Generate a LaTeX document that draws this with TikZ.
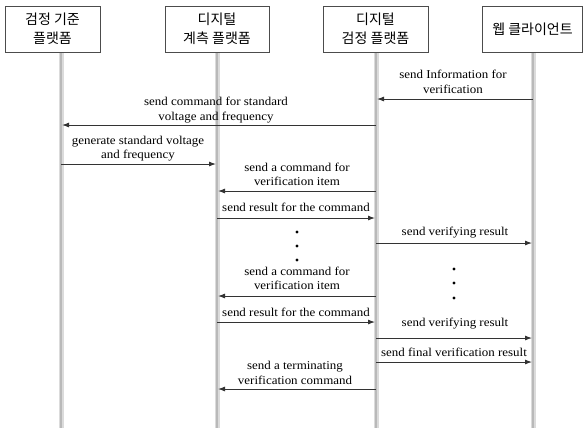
\documentclass[tikz,border=0pt]{standalone}
\usepackage{fontspec}
\setmainfont[FakeStretch=1.08]{Liberation Serif}
\newfontfamily\kor{Noto Sans CJK KR}
\usetikzlibrary{arrows.meta}
\begin{document}
\begin{tikzpicture}[x=1pt,y=-1pt,
  actor/.style={draw=black!70, line width=0.8pt, fill=white, minimum height=46pt, inner sep=0pt,
    font=\kor\fontsize{14}{19}\selectfont, align=center},
  lifeouter/.style={line width=5pt, draw=gray!28},
  lifeinner/.style={line width=2.4pt, draw=gray!55},
  msg/.style={draw=black!80, line width=0.9pt, -{Latex[length=7pt,width=5pt]}},
  lbl/.style={font=\fontsize{12}{14.5}\selectfont, align=center, inner sep=0pt},
  dot/.style={circle, fill=black, inner sep=0pt, minimum size=3.2pt}]
\useasboundingbox (0,0) rectangle (583,432);
% lifelines
\foreach \i/\x in {1/61,2/217,3/376,4/533}{
  \coordinate (t\i) at (\x,52);
  \coordinate (b\i) at (\x,428);
  \draw[lifeouter] (t\i) -- (b\i);
  \draw[lifeinner] (t\i) -- (b\i);
}
% actors
\node[actor, minimum width=95pt] (a1) at (52.5,29) {검정 기준\\플랫폼};
\node[actor, minimum width=104pt] (a2) at (217,29) {디지털\\계측 플랫폼};
\node[actor, minimum width=105pt] (a3) at (375.5,29) {디지털\\검정 플랫폼};
\node[actor, minimum width=100.5pt] (a4) at (532.5,29) {웹 클라이언트};
% message 1
\coordinate (m1s) at (533,99); \coordinate (m1e) at (377,99);
\draw[msg] (m1s) -- (m1e);
\node[lbl] (l1) at (453,82) {send Information for\\verification};
% message 2
\coordinate (m2s) at (376,125); \coordinate (m2e) at (62,125);
\draw[msg] (m2s) -- (m2e);
\node[lbl] (l2) at (216,110) {send command for standard\\voltage and frequency};
% message 3
\coordinate (m3s) at (61,164); \coordinate (m3e) at (216,164);
\draw[msg] (m3s) -- (m3e);
\node[lbl] (l3) at (138,148.5) {generate standard voltage\\and frequency};
% message 4
\coordinate (m4s) at (376,191); \coordinate (m4e) at (218,191);
\draw[msg] (m4s) -- (m4e);
\node[lbl] (l4) at (297,174.5) {send a command for\\verification item};
% message 5
\coordinate (m5s) at (217,218); \coordinate (m5e) at (375,218);
\draw[msg] (m5s) -- (m5e);
\node[lbl] (l5) at (296,207) {send result for the command};
% dots left
\node[dot] (d1) at (297,232) {};
\node[dot] (d2) at (297,246) {};
\node[dot] (d3) at (297,260) {};
% message 6
\coordinate (m6s) at (376,243); \coordinate (m6e) at (532,243);
\draw[msg] (m6s) -- (m6e);
\node[lbl] (l6) at (455,233) {send verifying result};
% message 7
\coordinate (m7s) at (376,296); \coordinate (m7e) at (218,296);
\draw[msg] (m7s) -- (m7e);
\node[lbl] (l7) at (297,278.5) {send a command for\\verification item};
% dots right
\node[dot] (d4) at (454,269) {};
\node[dot] (d5) at (454,283) {};
\node[dot] (d6) at (454,298) {};
% message 8
\coordinate (m8s) at (217,322); \coordinate (m8e) at (375,322);
\draw[msg] (m8s) -- (m8e);
\node[lbl] (l8) at (296,312) {send result for the command};
% message 9
\coordinate (m9s) at (376,338); \coordinate (m9e) at (532,338);
\draw[msg] (m9s) -- (m9e);
\node[lbl] (l9) at (455,324) {send verifying result};
% message 10
\coordinate (m10s) at (376,362); \coordinate (m10e) at (532,362);
\draw[msg] (m10s) -- (m10e);
\node[lbl] (l10) at (454,352) {send final verification result};
% message 11
\coordinate (m11s) at (376,389); \coordinate (m11e) at (218,389);
\draw[msg] (m11s) -- (m11e);
\node[lbl] (l11) at (295,373) {send a terminating\\verification command};
\end{tikzpicture}
\end{document}
